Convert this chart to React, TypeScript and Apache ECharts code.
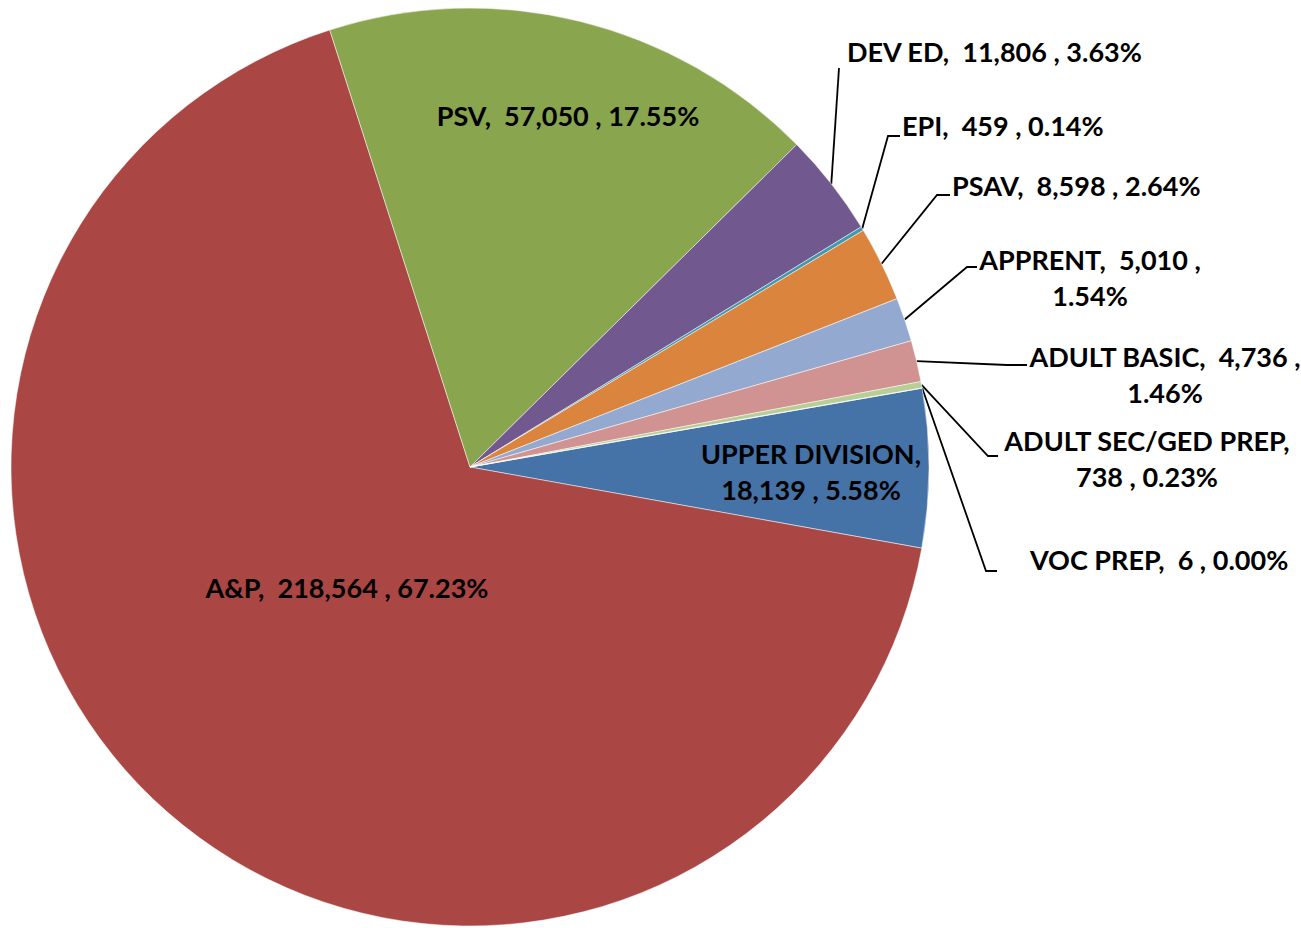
import React, { useEffect, useRef } from "react";
import * as echarts from "echarts";

// Data (Excel series order)
const categories = [
  "UPPER DIVISION",
  "A&P",
  "PSV",
  "DEV ED",
  "EPI",
  "PSAV",
  "APPRENT",
  "ADULT BASIC",
  "ADULT SEC/GED PREP",
  "VOC PREP",
];
const values = [18139, 218564, 57050, 11806, 459, 8598, 5010, 4736, 738, 6];
const sliceColors = [
  "#4572A7",
  "#AA4643",
  "#89A54E",
  "#71588F",
  "#4198AF",
  "#DB843D",
  "#93A9CF",
  "#D19392",
  "#B9CD96",
  "#A99BBD",
];
// where each label breaks onto a second line
const wrapModes = ["name", "none", "none", "none", "none", "none", "value", "value", "name", "none"];

// label placement (layout only)
const placements: any[] = [
  { x: 811, y: 471, align: "center", inside: true },
  { x: 347, y: 587, align: "center", inside: true },
  { x: 568, y: 115, align: "center", inside: true },
  { x: 847, y: 51, align: "left", line: [[839, 68]] },
  { x: 902, y: 125, align: "left", line: [[888, 136], [900, 136]] },
  { x: 952, y: 185, align: "left", line: [[937, 195], [950, 195]] },
  { x: 1090, y: 277, align: "center", line: [[967, 267], [977, 267]] },
  { x: 1165, y: 374, align: "center", line: [[1007, 365], [1027, 365]] },
  { x: 1147, y: 458, align: "center", line: [[988, 456], [998, 456]] },
  { x: 1030, y: 559, align: "left", line: [[986, 571], [997, 571]] },
];

const total = values.reduce((a, b) => a + b, 0);
const fmtNum = (n: number) => n.toLocaleString("en-US");

function labelText(i: number) {
  const name = categories[i] + ",";
  const val = fmtNum(values[i]) + " ,";
  const pct = ((values[i] / total) * 100).toFixed(2) + "%";
  const mode = wrapModes[i];
  if (mode === "name") return name + "\n" + val + " " + pct;
  if (mode === "value") return name + "  " + val + "\n" + pct;
  return name + "  " + val + " " + pct;
}

const CX = 470;
const CY = 467;
const R = 459;

export default function App() {
  const ref = useRef<HTMLDivElement>(null);
  useEffect(() => {
    if (!ref.current) return;
    const chart = echarts.init(ref.current, undefined, { renderer: "svg" });
    const data = categories.map((name, i) => {
      const p = placements[i];
      return {
        name,
        value: values[i],
        itemStyle: { color: sliceColors[i] },
        label: { position: p.inside ? "inside" : "outside" },
        labelLine: { show: !p.inside },
      };
    });
    chart.setOption({
      animation: false,
      backgroundColor: "#ffffff",
      series: [
        {
          type: "pie",
          center: [CX, CY],
          radius: [0, R],
          startAngle: 9.9,
          clockwise: true,
          avoidLabelOverlap: false,
          data,
          itemStyle: { borderColor: "#ffffff", borderWidth: 0.5 },
          label: {
            show: true,
            color: "#000000",
            fontFamily: "Lato, 'Open Sans', sans-serif",
            fontWeight: "bold",
            fontSize: 27,
            lineHeight: 36,
            formatter: (params: any) => labelText(params.dataIndex),
          },
          labelLine: {
            show: true,
            length: 10,
            length2: 10,
            lineStyle: { color: "#000000", width: 1.8 },
          },
          emphasis: { disabled: true },
          labelLayout: (params: any) => {
            const p = placements[params.dataIndex];
            const res: any = { x: p.x, y: p.y, align: p.align, verticalAlign: "middle" };
            if (p.line) {
              let start = params.labelLinePoints && params.labelLinePoints[0];
              if (!start) {
                let acc = 0;
                for (let k = 0; k < params.dataIndex; k++) acc += values[k];
                const mid = ((acc + values[params.dataIndex] / 2) / total) * 360;
                const a = ((90 - 9.9 + mid) * Math.PI) / 180;
                start = [CX + R * Math.sin(a), CY - R * Math.cos(a)];
              }
              res.labelLinePoints = [start, ...p.line];
            }
            return res;
          },
        },
      ],
    });
    return () => chart.dispose();
  }, []);
  return (
    <div
      ref={ref}
      style={{ position: "absolute", left: 0, top: 0, width: 1301, height: 928, background: "#fff" }}
    />
  );
}
